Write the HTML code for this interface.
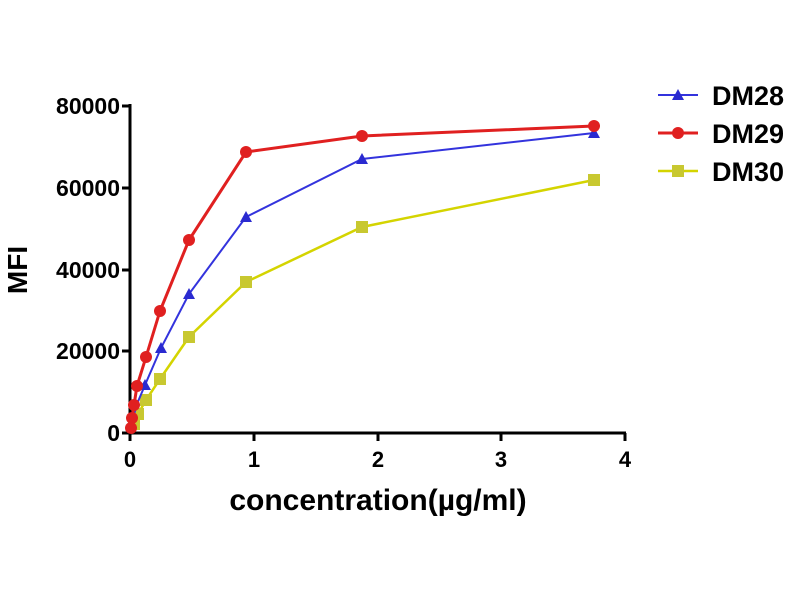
<!DOCTYPE html>
<html><head><style>body{margin:0;background:#fff}svg{display:block}</style></head>
<body>
<svg width="800" height="600" xmlns="http://www.w3.org/2000/svg" font-family="Liberation Sans, sans-serif" font-weight="bold">
<rect width="800" height="600" fill="#fff"/>
<g stroke="#000" stroke-width="3" fill="none">
<line x1="130" y1="104" x2="130" y2="434"/>
<line x1="128" y1="433" x2="626" y2="433"/>
<line x1="122" y1="106" x2="130" y2="106"/>
<line x1="122" y1="188" x2="130" y2="188"/>
<line x1="122" y1="270" x2="130" y2="270"/>
<line x1="122" y1="351" x2="130" y2="351"/>
<line x1="122" y1="433" x2="130" y2="433"/>
<line x1="130" y1="433" x2="130" y2="441"/>
<line x1="254" y1="433" x2="254" y2="441"/>
<line x1="378" y1="433" x2="378" y2="441"/>
<line x1="501" y1="433" x2="501" y2="441"/>
<line x1="625" y1="433" x2="625" y2="441"/>
</g>
<g font-size="23" text-anchor="end">
<text x="120" y="114">80000</text>
<text x="120" y="196">60000</text>
<text x="120" y="278">40000</text>
<text x="120" y="359">20000</text>
<text x="120" y="441">0</text>
</g>
<g font-size="22" text-anchor="middle">
<text x="130" y="467">0</text>
<text x="254" y="467">1</text>
<text x="378" y="467">2</text>
<text x="501" y="467">3</text>
<text x="625" y="467">4</text>
<text x="378" y="510" font-size="30">concentration(µg/ml)</text>
</g>
<text transform="translate(27,270) rotate(-90)" font-size="28" text-anchor="middle">MFI</text>
<polyline fill="none" stroke="#d4d400" stroke-width="2.5" points="594,180 362,227 246,282 189,337 160,379 146,400 138,414 134,424 131,430"/>
<g fill="#c8c830">
<rect x="588" y="174" width="12" height="12"/><rect x="356" y="221" width="12" height="12"/><rect x="240" y="276" width="12" height="12"/><rect x="183" y="331" width="12" height="12"/><rect x="154" y="373" width="12" height="12"/><rect x="140" y="394" width="12" height="12"/><rect x="132" y="408" width="12" height="12"/><rect x="128" y="418" width="12" height="12"/>
</g>
<polyline fill="none" stroke="#3333dd" stroke-width="2" points="594,133 362,159 246,217 189,294 161,348 145,385 137,404 133,418 131,427"/>
<g fill="#2a2ad0">
<polygon points="594,127 600,138 588,138"/><polygon points="362,153 368,164 356,164"/><polygon points="246,211 252,222 240,222"/><polygon points="189,288 195,299 183,299"/><polygon points="161,342 167,353 155,353"/><polygon points="145,379 151,390 139,390"/>
</g>
<polyline fill="none" stroke="#e02020" stroke-width="3" points="594,126 362,136 246,152 189,240 160,311 146,357 137,386 134,405 132,418 131,428"/>
<g fill="#e02020">
<circle cx="594" cy="126" r="6"/><circle cx="362" cy="136" r="6"/><circle cx="246" cy="152" r="6"/><circle cx="189" cy="240" r="6"/><circle cx="160" cy="311" r="6"/><circle cx="146" cy="357" r="6"/><circle cx="137" cy="386" r="6"/><circle cx="134" cy="405" r="6"/><circle cx="132" cy="418" r="6"/><circle cx="131" cy="428" r="6"/>
</g>
<line x1="658" y1="95" x2="698" y2="95" stroke="#3333dd" stroke-width="2"/>
<polygon points="678,89 684,100 672,100" fill="#2a2ad0"/>
<text x="712" y="105" font-size="27">DM28</text>
<line x1="658" y1="133" x2="698" y2="133" stroke="#e02020" stroke-width="3"/>
<circle cx="678" cy="133" r="6" fill="#e02020"/>
<text x="712" y="143" font-size="27">DM29</text>
<line x1="658" y1="171" x2="698" y2="171" stroke="#d4d400" stroke-width="2.5"/>
<rect x="672" y="165" width="12" height="12" fill="#c8c830"/>
<text x="712" y="181" font-size="27">DM30</text>
</svg>
</body></html>
